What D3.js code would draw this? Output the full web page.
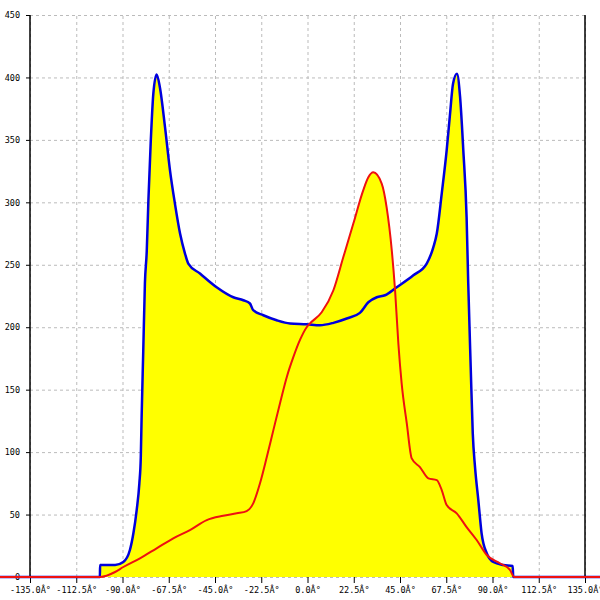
<!DOCTYPE html>
<html>
<head>
<meta charset="utf-8">
<script src="https://cdn.jsdelivr.net/npm/d3@7"></script>
<style>
  body { margin: 0; background: #fff; }
  svg  { display: block; }
  .tick text { font-family: "DejaVu Sans Mono", monospace; font-size: 8.5px; fill: #000; }
</style>
</head>
<body>
<div id="graph"></div>
<script>
// angle (deg) / value pairs
var blueAngles = [ -180, -101, -100.9, -93.6, -89.6, -86.4, -84.7, -83.1, -81.8, -81.1, -80.7, -79.9, -79.1, -78.2,
                   -77.4, -76.3, -75.0, -73.4, -71.8, -69.3, -66.9, -64.5, -62.0, -59.6, -58.0, -52.3, -44.2,
                   -36.1, -31.2, -28.0, -26.4, -21.5, -15.0, -8.5, -0.4, 6.1, 12.6, 19.1, 25.5, 29.6, 33.7, 37.7,
                   43.4, 51.5, 58.0, 61.2, 62.9, 65.3, 67.7, 69.3, 70.8, 72.7, 74.2, 75.8, 77.4, 78.2, 79.4,
                   80.4, 81.5, 83.1, 84.7, 87.2, 90.4, 95.3, 99.8, 100.1, 180 ];
var blueValues = [ 0, 0, 9.6, 9.6, 12, 21.6, 35, 53.6, 75, 96, 128, 181, 235, 261,
                   301.6, 347, 387, 402.4, 392, 360, 325.6, 299, 275, 259, 251, 243, 232,
                   224, 221.6, 219, 213.6, 209.6, 205.6, 203, 202.4, 201.6, 203.5, 207, 211.5, 220, 224, 225.6,
                   232, 241.6, 251, 264, 275, 307, 341.6, 370, 395, 403, 385, 341.6, 288, 235, 168,
                   115, 88, 61.6, 35, 19, 12, 9.6, 8.8, 0, 0 ];

var redAngles = [ -180, -100.9, -93.6, -89.6, -81.5, -73.4, -65.3, -57.2, -49.0, -41.0, -34.4, -29.6, -26.4,
                  -23.1, -19.8, -16.6, -13.4, -10.1, -6.9, -3.6, -0.4, 1.2, 6.9, 12.6, 17.4, 22.3, 27.1, 29.6,
                  32.0, 36.1, 38.5, 41.0, 42.6, 44.2, 45.8, 48.3, 50.7, 54.7, 58.8, 62.9, 65.3, 67.7, 72.6,
                  77.4, 82.3, 87.2, 93.6, 98.5, 100.6, 180 ];
var redValues = [ 0, 0, 4, 8, 15, 23, 31, 37.6, 45.6, 49, 51, 52.8, 59,
                  75, 96, 117.6, 139, 160, 176, 190, 200, 203, 212, 229.6, 256, 283, 309.6, 320,
                  324, 315, 296, 261.6, 229.6, 187, 155, 123, 95, 88, 79, 77.6, 69.6, 57.6, 51,
                  40, 29.6, 17.6, 11, 5.6, 0, 0 ];

var xTicks = [ -135, -112.5, -90, -67.5, -45, -22.5, 0, 22.5, 45, 67.5, 90, 112.5, 135 ];
var xTickLabels = [ '-135.0Â°', '-112.5Â°', '-90.0Â°', '-67.5Â°', '-45.0Â°', '-22.5Â°', '0.0Â°',
                    '22.5Â°', '45.0Â°', '67.5Â°', '90.0Â°', '112.5Â°', '135.0Â°' ];
var yTicks = [ 0, 50, 100, 150, 200, 250, 300, 350, 400, 450 ];

function D3App ()
{
    var margin = { top: 15, right: 15, bottom: 23, left: 30 };
    var width  = 600 - margin.left - margin.right;
    var height = 600 - margin.top  - margin.bottom;

    var svg = d3.select ('#graph')
                .append ('svg')
                .attr ('width', 600)
                .attr ('height', 600)
                .append ('g')
                .attr ('transform', 'translate(' + margin.left + ',' + margin.top + ')');

    var xScale = d3.scaleLinear ().domain ([ -135, 135 ]).range ([ 0, width ]);
    var yScale = d3.scaleLinear ().domain ([ 0, 450 ]).range ([ height, 0 ]);

    var blue = blueAngles.map (function (a, i) { return { x: a, y: blueValues[i] }; });
    var red  = redAngles.map  (function (a, i) { return { x: a, y: redValues[i] }; });

    // grid lines, dashed grey, via long ticks
    var xGrid = d3.axisBottom (xScale).tickValues (xTicks).tickSize (-height).tickFormat ('');
    var yGrid = d3.axisLeft (yScale).tickValues (yTicks).tickSize (-width).tickFormat ('');

    svg.append ('g').attr ('class', 'grid').attr ('transform', 'translate(0,' + height + ')').call (xGrid);
    svg.append ('g').attr ('class', 'grid').call (yGrid);

    svg.selectAll ('.grid path').remove ();
    svg.selectAll ('.grid line')
       .attr ('stroke', '#bbb')
       .attr ('stroke-dasharray', '3,3');

    // yellow fill under both curves
    var area = d3.area ()
                 .x  (function (d) { return xScale (d.x); })
                 .y0 (yScale (0))
                 .y1 (function (d) { return yScale (d.y); })
                 .curve (d3.curveMonotoneX);

    svg.append ('path').datum (red).attr ('d', area).attr ('fill', '#ffff00');
    svg.append ('path').datum (blue).attr ('d', area).attr ('fill', '#ffff00');

    // axes
    var xAxis = d3.axisBottom (xScale)
                  .tickValues (xTicks)
                  .tickSize (6)
                  .tickPadding (4)
                  .tickFormat (function (d, i) { return xTickLabels[i]; });

    var yAxis = d3.axisLeft (yScale)
                  .tickValues (yTicks)
                  .tickSize (4)
                  .tickPadding (6);

    var gx = svg.append ('g').attr ('class', 'x axis').attr ('transform', 'translate(0,' + height + ')').call (xAxis);
    var gy = svg.append ('g').attr ('class', 'y axis').call (yAxis);

    gx.select ('.domain').remove ();
    gy.select ('.domain').remove ();
    svg.selectAll ('.axis line').attr ('stroke', '#000');

    svg.append ('line')
       .attr ('x1', 0).attr ('x2', 0)
       .attr ('y1', 0).attr ('y2', height)
       .attr ('stroke', '#000').attr ('stroke-width', 1.5);

    svg.append ('line')
       .attr ('x1', width).attr ('x2', width)
       .attr ('y1', 0).attr ('y2', height)
       .attr ('stroke', '#000').attr ('stroke-width', 1.5);

    // the two curves
    var line = d3.line ()
                 .x (function (d) { return xScale (d.x); })
                 .y (function (d) { return yScale (d.y); })
                 .curve (d3.curveMonotoneX);

    svg.append ('path')
       .datum (blue)
       .attr ('d', line)
       .attr ('fill', 'none')
       .attr ('stroke', '#0000dd')
       .attr ('stroke-width', 2.5);

    svg.append ('path')
       .datum (red)
       .attr ('d', line)
       .attr ('fill', 'none')
       .attr ('stroke', '#ee1111')
       .attr ('stroke-width', 2);
}

D3App ();
</script>
</body>
</html>
